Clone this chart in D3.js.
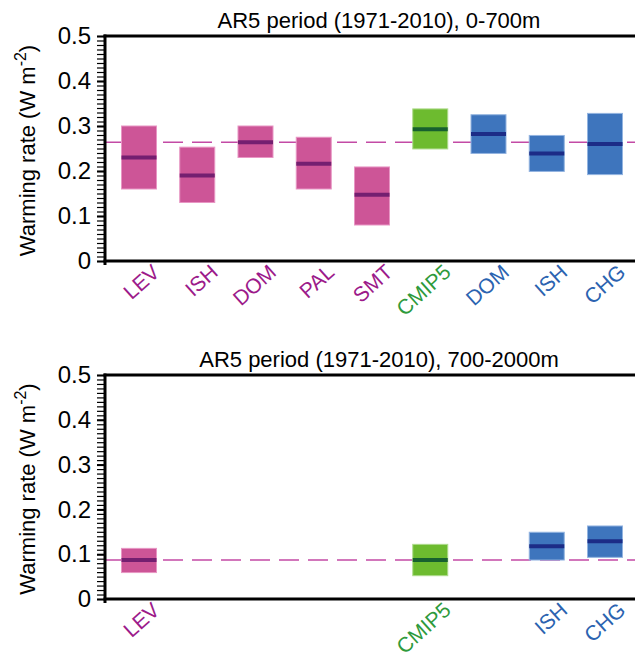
<!DOCTYPE html>
<html>
<head>
<meta charset="utf-8">
<script src="https://cdn.jsdelivr.net/npm/d3@7"></script>
<style>
  body { margin: 0; background: #fff; }
  svg { display: block; font-family: "Liberation Sans", Arial, sans-serif; }
</style>
</head>
<body>
<div id="chart"></div>
<script>
const width = 635;
const height = 659;

// categories along the x axis (same slots for both panels)
const categories = ["LEV", "ISH", "DOM", "PAL", "SMT", "CMIP5", "DOM", "ISH", "CHG"];
const groups = ["obs", "obs", "obs", "obs", "obs", "model", "recon", "recon", "recon"];

// 0-700m: upper / lower range and central estimate (W m-2)
const upper700 = [0.300, 0.253, 0.300, 0.275, 0.209, 0.338, 0.325, 0.279, 0.328];
const lower700 = [0.160, 0.130, 0.230, 0.160, 0.080, 0.249, 0.239, 0.199, 0.192];
const mid700   = [0.230, 0.190, 0.264, 0.216, 0.147, 0.293, 0.282, 0.239, 0.260];
const ref700 = 0.264;

// 700-2000m
const upper2000 = [0.113, null, null, null, null, 0.122, null, 0.149, 0.163];
const lower2000 = [0.059, null, null, null, null, 0.052, null, 0.087, 0.093];
const mid2000   = [0.087, null, null, null, null, 0.087, null, 0.118, 0.129];
const ref2000 = 0.087;

const yTicks = [0, 0.1, 0.2, 0.3, 0.4, 0.5];

const fillColor  = { obs: "#cd5597", model: "#6dbb2f", recon: "#3e75bd" };
const edgeColor  = { obs: "#e896c4", model: "#aedb8c", recon: "#93b4e0" };
const midColor   = { obs: "#741f70", model: "#17602f", recon: "#1c2c87" };
const labelColor = { obs: "#9c1a8a", model: "#2e9a3c", recon: "#2b63b0" };

const svg = d3.select("#chart")
  .append("svg")
  .attr("width", width)
  .attr("height", height);

const left = 105, right = 635;

const x = d3.scalePoint()
  .domain(d3.range(categories.length))
  .range([left + 34, right - 30]);

const boxW = 35;

function panel(top, bottom, title, upper, lower, mid, ref) {
  const g = svg.append("g");
  const y = d3.scaleLinear().domain([0, 0.5]).range([bottom, top]);

  // title
  g.append("text")
    .attr("x", 379)
    .attr("y", top - 8)
    .attr("text-anchor", "middle")
    .attr("font-size", 22)
    .text(title);

  // reference dashed line
  g.append("line")
    .attr("x1", left)
    .attr("x2", right)
    .attr("y1", y(ref))
    .attr("y2", y(ref))
    .attr("stroke", "#c34aa5")
    .attr("stroke-width", 1.5)
    .attr("stroke-dasharray", "20,9");

  const idx = d3.range(categories.length).filter(i => upper[i] != null);

  // boxes
  g.selectAll("rect.box")
    .data(idx)
    .join("rect")
      .attr("class", "box")
      .attr("x", i => x(i) - boxW / 2)
      .attr("y", i => y(upper[i]))
      .attr("width", boxW)
      .attr("height", i => y(lower[i]) - y(upper[i]))
      .attr("fill", i => fillColor[groups[i]])
      .attr("stroke", i => edgeColor[groups[i]])
      .attr("stroke-width", 1);

  // central estimates
  g.selectAll("line.mid")
    .data(idx)
    .join("line")
      .attr("class", "mid")
      .attr("x1", i => x(i) - boxW / 2)
      .attr("x2", i => x(i) + boxW / 2)
      .attr("y1", i => y(mid[i]))
      .attr("y2", i => y(mid[i]))
      .attr("stroke", i => midColor[groups[i]])
      .attr("stroke-width", 4);

  // minor ticks
  g.append("g")
    .attr("transform", `translate(${left},0)`)
    .call(d3.axisLeft(y).tickValues(d3.range(0, 0.5001, 0.01)).tickSize(8).tickFormat(""))
    .call(a => a.select(".domain").remove())
    .call(a => a.selectAll("line").attr("stroke-width", 1.2));

  // major ticks + labels
  g.append("g")
    .attr("transform", `translate(${left},0)`)
    .call(d3.axisLeft(y).tickValues(yTicks).tickSize(8).tickPadding(6)
      .tickFormat(d => d === 0 ? "0" : d3.format(".1f")(d)))
    .call(a => a.select(".domain").remove())
    .call(a => a.selectAll("line").attr("stroke-width", 2))
    .call(a => a.selectAll("text").attr("font-size", 24).attr("fill", "#000")
      .attr("font-family", "Liberation Sans, Arial, sans-serif"));

  // frame: left, bottom, top
  g.append("line").attr("x1", left).attr("x2", left).attr("y1", top - 1.5).attr("y2", bottom + 4)
    .attr("stroke", "#000").attr("stroke-width", 3);
  g.append("line").attr("x1", left - 1.5).attr("x2", right).attr("y1", bottom).attr("y2", bottom)
    .attr("stroke", "#000").attr("stroke-width", 3);
  g.append("line").attr("x1", left - 1.5).attr("x2", right).attr("y1", top).attr("y2", top)
    .attr("stroke", "#000").attr("stroke-width", 3);

  // category labels
  g.selectAll("text.cat")
    .data(idx)
    .join("text")
      .attr("class", "cat")
      .attr("text-anchor", "end")
      .attr("font-size", 21)
      .attr("fill", i => labelColor[groups[i]])
      .attr("transform", i => `translate(${x(i) + 22},${bottom + 13}) rotate(-42)`)
      .text(i => categories[i]);

  // y label
  const yl = g.append("text")
    .attr("transform", `translate(35,${(top + bottom) / 2 + 2}) rotate(-90)`)
    .attr("text-anchor", "middle")
    .attr("font-size", 22);
  yl.append("tspan").text("Warming rate (W m");
  yl.append("tspan").attr("dy", -9).attr("font-size", 16).text("-2");
  yl.append("tspan").attr("dy", 9).text(")");
}

panel(36, 261, "AR5 period (1971-2010), 0-700m", upper700, lower700, mid700, ref700);
panel(375, 599, "AR5 period (1971-2010), 700-2000m", upper2000, lower2000, mid2000, ref2000);
</script>
</body>
</html>
